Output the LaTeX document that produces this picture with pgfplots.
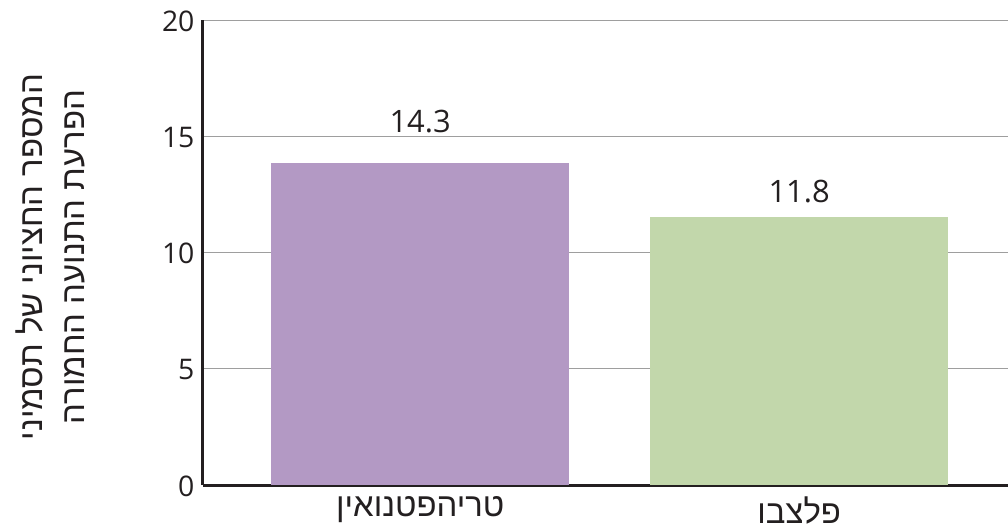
\documentclass[border=0pt]{standalone}
\usepackage{pgfplots}
\pgfplotsset{compat=1.18}
\usepackage{fontspec}
\setmainfont{Open Sans}
\newfontfamily\hebfont[Script=Hebrew]{Liberation Sans}
\TeXXeTstate=1
\definecolor{barpurple}{RGB}{179,153,196}
\definecolor{bargreen}{RGB}{194,215,171}
\definecolor{txt}{RGB}{35,31,32}
\begin{document}
\begin{tikzpicture}
\path[use as bounding box] (-203bp,-44bp) rectangle (805bp,485bp);
\begin{axis}[
  at={(0,0)}, anchor=south west, scale only axis,
  width=805bp, height=465bp,
  xmin=-0.573, xmax=1.551, ymin=0, ymax=20,
  ytick={0,5,10,15,20},
  xtick={0,1},
  xticklabels={{\hebfont\beginR טריהפטנואין\endR},{\hebfont\beginR פלצבו\endR}},
  ymajorgrids, grid style={draw=black!38, line width=0.8bp},
  axis x line*=bottom, axis y line*=left,
  axis line style={line width=3bp, draw=txt, -},
  major tick length=0pt,
  /pgf/number format/assume math mode=true,
  tick label style={font=\fontsize{28.5}{32}\selectfont, text=txt},
  yticklabel style={xshift=-5bp, yshift=-1bp},
  xticklabel style={yshift=-8bp, font=\hebfont\fontsize{33}{38}\selectfont},
  ylabel={\beginR המספר החציוני של תסמיני\endR\\\beginR הפרעת התנועה החמורה\endR},
  ylabel style={at={(axis description cs:-0.19,0.49)}, anchor=center, align=center,
    font=\hebfont\fontsize{33}{42}\selectfont, text=txt},
  clip=false,
]
\addplot[ybar, bar shift=0pt, bar width=0.786, fill=barpurple, draw=none] coordinates {(0,13.85)};
\addplot[ybar, bar shift=0pt, bar width=0.786, fill=bargreen, draw=none] coordinates {(1,11.53)};
\node[font=\fontsize{31}{36}\selectfont, text=txt, anchor=base] at (axis cs:0,15.18) {14.3};
\node[font=\fontsize{31}{36}\selectfont, text=txt, anchor=base] at (axis cs:1,12.17) {11.8};
\end{axis}
\end{tikzpicture}
\end{document}
